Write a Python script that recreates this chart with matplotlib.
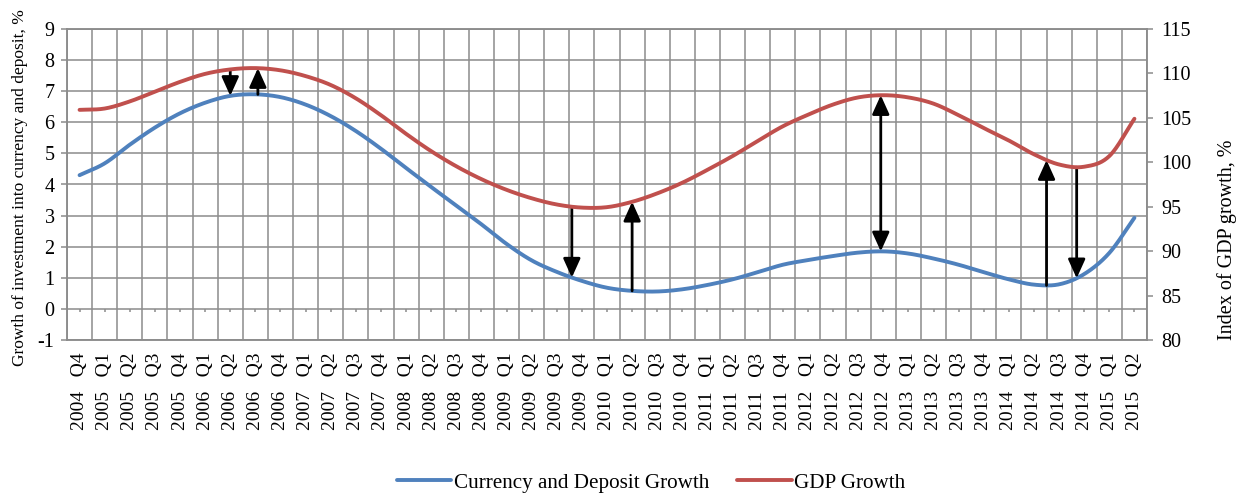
import numpy as np
import matplotlib
matplotlib.use("Agg")
import matplotlib.pyplot as plt
from matplotlib.patches import ArrowStyle

plt.rcParams["font.family"] = ["Liberation Serif", "DejaVu Serif"]
plt.rcParams["axes.unicode_minus"] = False

# Quarterly periods, 2004 Q4 .. 2015 Q2
quarters = [
    "2004 Q4",
    "2005 Q1", "2005 Q2", "2005 Q3", "2005 Q4",
    "2006 Q1", "2006 Q2", "2006 Q3", "2006 Q4",
    "2007 Q1", "2007 Q2", "2007 Q3", "2007 Q4",
    "2008 Q1", "2008 Q2", "2008 Q3", "2008 Q4",
    "2009 Q1", "2009 Q2", "2009 Q3", "2009 Q4",
    "2010 Q1", "2010 Q2", "2010 Q3", "2010 Q4",
    "2011 Q1", "2011 Q2", "2011 Q3", "2011 Q4",
    "2012 Q1", "2012 Q2", "2012 Q3", "2012 Q4",
    "2013 Q1", "2013 Q2", "2013 Q3", "2013 Q4",
    "2014 Q1", "2014 Q2", "2014 Q3", "2014 Q4",
    "2015 Q1", "2015 Q2",
]

# Growth of investment into currency and deposit, % (left axis)
deposit_growth = [
    4.30, 4.68, 5.28, 5.83, 6.29, 6.63, 6.85, 6.90, 6.81, 6.57,
    6.20, 5.72, 5.15, 4.53, 3.92, 3.32, 2.72, 2.09, 1.56, 1.19,
    0.90, 0.68, 0.58, 0.56, 0.63, 0.77, 0.95, 1.18, 1.42, 1.57,
    1.70, 1.81, 1.85, 1.78, 1.62, 1.42, 1.18, 0.95, 0.78, 0.79,
    1.12, 1.80, 2.93,
]

# Index of GDP growth, % (right axis)
gdp_growth = [
    105.9, 106.05, 106.85, 107.95, 109.05, 109.95, 110.45, 110.6, 110.35, 109.7,
    108.7, 107.2, 105.3, 103.2, 101.25, 99.55, 98.1, 96.9, 95.95, 95.25,
    94.9, 94.95, 95.55, 96.5, 97.7, 99.15, 100.7, 102.4, 104.05, 105.35,
    106.5, 107.3, 107.55, 107.3, 106.6, 105.3, 103.85, 102.45, 100.9, 99.75,
    99.5, 100.7, 104.9,
]

# Arrows between the two curves: (category position, style)
arrow_x = [6.0, 7.1, 19.6, 22.0, 31.9, 38.5, 39.7]
arrow_dir = ["down", "up", "down", "up", "both", "up", "down"]

LEFT_LIM = (-1, 9)
RIGHT_LIM = (80, 115)

BLUE = "#4F81BD"
RED = "#C0504D"
GRID = "#8c8c8c"


def smooth(values, steps=30):
    """Cardinal (Catmull-Rom) spline through equally spaced points."""
    p = np.asarray(values, dtype=float)
    n = len(p)
    m = np.empty(n)
    m[1:-1] = (p[2:] - p[:-2]) / 2.0
    m[0] = p[1] - p[0]
    m[-1] = p[-1] - p[-2]
    xs, ys = [], []
    t = np.linspace(0, 1, steps, endpoint=False)
    h00 = 2 * t**3 - 3 * t**2 + 1
    h10 = t**3 - 2 * t**2 + t
    h01 = -2 * t**3 + 3 * t**2
    h11 = t**3 - t**2
    for i in range(n - 1):
        xs.append(i + t)
        ys.append(h00 * p[i] + h10 * m[i] + h01 * p[i + 1] + h11 * m[i + 1])
    xs.append(np.array([n - 1.0]))
    ys.append(np.array([p[-1]]))
    return np.concatenate(xs), np.concatenate(ys)


def right_to_left(v):
    return LEFT_LIM[0] + (np.asarray(v) - RIGHT_LIM[0]) * (
        (LEFT_LIM[1] - LEFT_LIM[0]) / (RIGHT_LIM[1] - RIGHT_LIM[0]))


fig = plt.figure(figsize=(12.45, 4.94), dpi=100)
ax = fig.add_axes([67 / 1245, 1 - 340 / 494, 1080 / 1245, 311 / 494])
ax2 = ax.twinx()

n = len(quarters)
idx = np.arange(n)

# grid
ax.set_xlim(-0.5, n - 0.5)
ax.set_ylim(*LEFT_LIM)
ax2.set_ylim(*RIGHT_LIM)
ax.set_yticks(np.arange(-1, 10, 1))
ax2.set_yticks(np.arange(80, 116, 5))
ax.set_xticks(idx)
ax.set_xticks(np.arange(-0.5, n, 1), minor=True)
ax.grid(True, which="minor", axis="x", color=GRID, lw=1.1)
ax.grid(True, which="major", axis="y", color=GRID, lw=1.1)
ax.set_axisbelow(True)
ax.tick_params(axis="x", which="both", length=0)
ax.tick_params(axis="y", direction="out", length=4, width=1.1, color=GRID,
               labelsize=14.5, pad=5)
ax2.tick_params(axis="y", direction="out", length=4, width=1.1, color=GRID,
                labelsize=14.5, pad=6)
for a in (ax, ax2):
    for s in a.spines.values():
        s.set_color(GRID)
        s.set_linewidth(1.1)

labels = [q.replace(" ", "   ") for q in quarters]
ax.set_xticklabels(labels, rotation=90, fontsize=14, va="top", ha="center")
ax.tick_params(axis="x", pad=9)

# horizontal category axis at zero with small ticks
ax.vlines(idx, -0.1, 0, color=GRID, lw=1.1, zorder=1)

# curves
xs, yb = smooth(deposit_growth)
_, yr = smooth(gdp_growth)
ax.plot(xs, yb, color=BLUE, lw=2.8, solid_capstyle="round", zorder=3,
        label="Currency and Deposit Growth")
ax2.plot(xs, yr, color=RED, lw=2.8, solid_capstyle="round", zorder=3,
         label="GDP Growth")

# arrows between the curves (GDP curve mapped to left-axis units)
yr_left = right_to_left(yr)
head = ArrowStyle("-|>", head_length=1.15, head_width=0.52)
both = ArrowStyle("<|-|>", head_length=1.15, head_width=0.52)
for x0, d in zip(arrow_x, arrow_dir):
    b = np.interp(x0, xs, yb)
    r = np.interp(x0, xs, yr_left)
    if d == "down":
        start, end, style = r, b, head
    elif d == "up":
        start, end, style = b, r, head
    else:
        start, end, style = b, r, both
    ax.annotate("", xy=(x0, end), xytext=(x0, start),
                arrowprops=dict(arrowstyle=style, color="black", lw=2.0,
                                mutation_scale=10, shrinkA=0, shrinkB=0),
                zorder=5)

# axis titles
fig.text(20 / 1245, 1 - 188 / 494,
         "Growth of investment into currency and deposit, %",
         rotation=90, ha="center", va="center", fontsize=12.5)
fig.text(1227 / 1245, 1 - 240 / 494, "Index of GDP growth, %",
         rotation=90, ha="center", va="center", fontsize=14.5)

# legend
h1, l1 = ax.get_legend_handles_labels()
h2, l2 = ax2.get_legend_handles_labels()
fig.legend(h1 + h2, l1 + l2, loc="center",
           bbox_to_anchor=(651 / 1245, 1 - 483 / 494),
           ncol=2, frameon=False, fontsize=15.2, handlelength=2.6,
           handletextpad=0.12, columnspacing=1.3)

fig.savefig("out.png", dpi=100)
